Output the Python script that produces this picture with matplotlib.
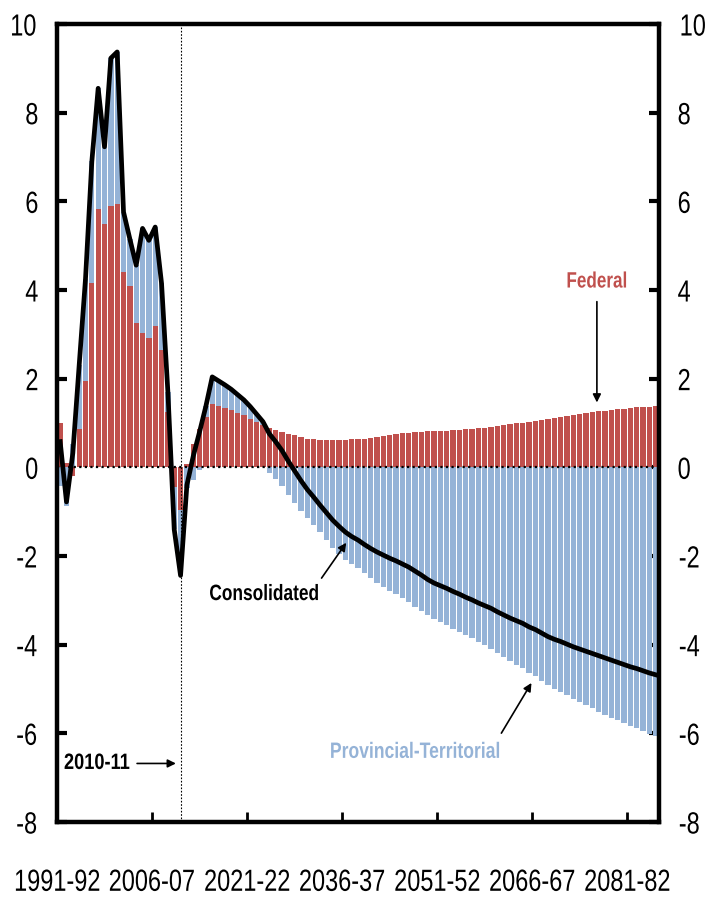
import matplotlib
matplotlib.use("Agg")
import matplotlib.pyplot as plt
import numpy as np
from matplotlib.patheffects import AbstractPathEffect
from matplotlib.transforms import Affine2D

plt.rcParams['font.family'] = ['Liberation Sans', 'DejaVu Sans']
plt.rcParams['axes.unicode_minus'] = False

# budget balance, % of GDP, 1991-92 .. 2085-86
fed = [1.0, 0.1, -0.2, 0.86, 1.94, 4.16, 5.82, 5.5, 5.9, 5.95,
       4.41, 4.09, 3.26, 3.02, 2.92, 3.19, 2.64, 1.25, -0.45, -0.97,
       0.07, 0.53, 0.87, 1.14, 1.42, 1.38, 1.33, 1.29, 1.23, 1.17,
       1.10, 1.02, 0.95, 0.88, 0.84, 0.80, 0.76, 0.72, 0.68, 0.65,
       0.63, 0.62, 0.62, 0.62, 0.62, 0.62, 0.63, 0.64, 0.65, 0.67,
       0.69, 0.71, 0.73, 0.75, 0.77, 0.78, 0.80, 0.80, 0.81, 0.82,
       0.82, 0.83, 0.84, 0.85, 0.86, 0.87, 0.88, 0.89, 0.91, 0.93,
       0.95, 0.97, 0.99, 1.01, 1.03, 1.05, 1.07, 1.09, 1.11, 1.13,
       1.15, 1.18, 1.20, 1.22, 1.24, 1.26, 1.28, 1.30, 1.31, 1.32,
       1.34, 1.35, 1.36, 1.37, 1.38]

prov = [-0.42, -0.88, 0.52, 1.44, 2.31, 2.74, 2.73, 1.73, 3.33, 3.42,
        1.35, 1.06, 1.30, 2.37, 2.20, 2.23, 1.51, 0.45, -0.95, -1.47,
        -0.47, -0.28, -0.07, 0.24, 0.62, 0.57, 0.53, 0.47, 0.41, 0.35,
        0.27, 0.18, 0.08, -0.12, -0.26, -0.42, -0.62, -0.80, -0.98, -1.15,
        -1.30, -1.47, -1.64, -1.81, -1.95, -2.08, -2.19, -2.28, -2.39, -2.50,
        -2.60, -2.69, -2.78, -2.86, -2.95, -3.03, -3.14, -3.23, -3.34, -3.43,
        -3.49, -3.56, -3.64, -3.71, -3.79, -3.86, -3.94, -4.01, -4.09, -4.19,
        -4.28, -4.37, -4.45, -4.53, -4.63, -4.71, -4.81, -4.91, -4.99, -5.06,
        -5.14, -5.23, -5.30, -5.37, -5.44, -5.51, -5.58, -5.65, -5.71, -5.77,
        -5.84, -5.89, -5.95, -6.01, -6.06]

cons = [0.58, -0.78, 0.32, 2.3, 4.25, 6.9, 8.55, 7.23, 9.23, 9.37,
        5.76, 5.15, 4.56, 5.39, 5.12, 5.42, 4.15, 1.7, -1.4, -2.44,
        -0.4, 0.25, 0.8, 1.38, 2.04, 1.95, 1.86, 1.76, 1.64, 1.52,
        1.37, 1.20, 1.03, 0.76, 0.58, 0.38, 0.14, -0.08, -0.30, -0.50,
        -0.67, -0.85, -1.02, -1.19, -1.33, -1.46, -1.56, -1.64, -1.74, -1.83,
        -1.91, -1.98, -2.05, -2.11, -2.18, -2.25, -2.34, -2.43, -2.53, -2.61,
        -2.67, -2.73, -2.80, -2.86, -2.93, -2.99, -3.06, -3.12, -3.18, -3.26,
        -3.33, -3.40, -3.46, -3.52, -3.60, -3.66, -3.74, -3.82, -3.88, -3.93,
        -3.99, -4.05, -4.10, -4.15, -4.20, -4.25, -4.30, -4.35, -4.40, -4.45,
        -4.50, -4.54, -4.59, -4.64, -4.68]

xlabels = ["1991-92", "2006-07", "2021-22", "2036-37", "2051-52", "2066-67", "2081-82"]
mark_year = 19  # index of 2010-11

RED = "#C0504D"
BLUE = "#95B3D7"


class Squeeze(AbstractPathEffect):
    # narrow the glyphs around their centre, to get a condensed look
    def __init__(self, s=0.8):
        super().__init__()
        self.s = s

    def draw_path(self, renderer, gc, tpath, affine, rgbFace=None):
        ext = tpath.get_extents()
        cx = (ext.x0 + ext.x1) / 2
        t = Affine2D().translate(-cx, 0).scale(self.s, 1).translate(cx, 0)
        renderer.draw_path(gc, tpath, t + affine, rgbFace)


fed = np.array(fed)
prov = np.array(prov)
n = len(fed)
x = np.arange(n) + 0.5
# excel style stacking: same sign stacks on the federal bar, else starts at 0
bot = np.where(np.sign(prov) == np.sign(fed), fed, 0)

fig = plt.figure(figsize=(7.07, 9.0), dpi=100)
ax = fig.add_axes([0.0806, 0.0867, 0.8515, 0.8866])

ax.bar(x, fed, width=0.84, color=RED, zorder=2)
ax.bar(x, prov, width=0.84, bottom=bot, color=BLUE, zorder=2)
ax.axhline(0, color="black", lw=1.6, ls=(0, (1, 1.5)), zorder=3)
ax.axvline(mark_year + 0.5, color="black", lw=0.8, ls=(0, (1.5, 1.5)), zorder=3)
ax.plot(x, cons, color="black", lw=3.4, zorder=4)

ax.set_xlim(0, n)
ax.set_ylim(-8, 10)
ax.set_yticks(np.arange(-8, 11, 2))
ax.set_xticks(np.arange(0, n, 15))
ax.set_xticklabels(xlabels)
for s in ax.spines.values():
    s.set_linewidth(3.2)
ax.tick_params(axis="y", direction="in", length=7, width=3, right=True,
               labelright=True, labelsize=22, pad=12)
ax.tick_params(axis="x", direction="in", length=7, width=2, labelsize=22, pad=33)
for lab in ax.get_xticklabels() + ax.get_yticklabels():
    lab.set_path_effects([Squeeze(0.77)])
for t in ax.yaxis.get_major_ticks():
    t.label2.set_path_effects([Squeeze(0.77)])

# annotations
ax.text(85.2, 4.18, "Federal", color=RED, fontsize=16, fontweight="bold",
        ha="center", va="center", path_effects=[Squeeze(0.77)])
ax.annotate("", xy=(85.2, 1.4), xytext=(85.2, 3.8),
            arrowprops=dict(arrowstyle="-|>", color="black", lw=1.2, mutation_scale=12))
ax.text(32.7, -2.87, "Consolidated", color="black", fontsize=16, fontweight="bold",
        ha="center", va="center", path_effects=[Squeeze(0.78)])
ax.annotate("", xy=(45.9, -1.65), xytext=(41.5, -2.55),
            arrowprops=dict(arrowstyle="-|>", color="black", lw=1.2, mutation_scale=12))
ax.text(56.5, -6.43, "Provincial-Territorial", color=BLUE, fontsize=16, fontweight="bold",
        ha="center", va="center", path_effects=[Squeeze(0.79)])
ax.annotate("", xy=(75.1, -4.81), xytext=(69.9, -6.05),
            arrowprops=dict(arrowstyle="-|>", color="black", lw=1.2, mutation_scale=12))
ax.text(6.3, -6.68, "2010-11", color="black", fontsize=16, fontweight="bold",
        ha="center", va="center", path_effects=[Squeeze(0.82)])
ax.annotate("", xy=(19.2, -6.68), xytext=(12.2, -6.68),
            arrowprops=dict(arrowstyle="-|>", color="black", lw=1.2, mutation_scale=12))

fig.savefig("out.png", dpi=100)
